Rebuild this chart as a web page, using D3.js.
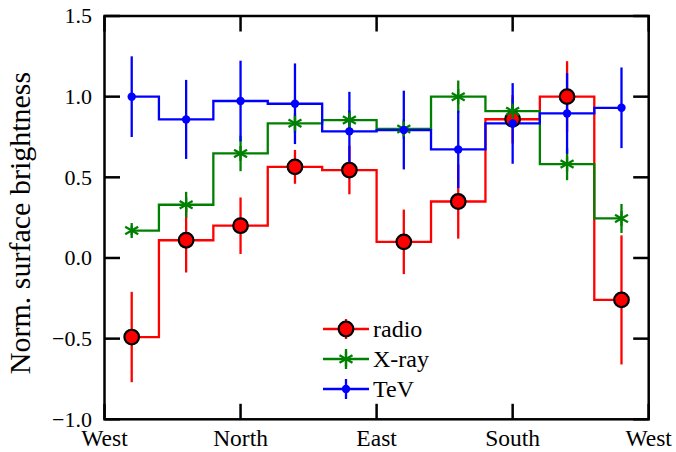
<!DOCTYPE html>
<html>
<head>
<meta charset="utf-8">
<script src="https://cdn.jsdelivr.net/npm/d3@7/dist/d3.min.js"></script>
<style>
  html, body { margin: 0; padding: 0; background: #fff; }
  svg { display: block; }
  text { font-family: "Liberation Serif", "Times New Roman", serif; fill: #000; }
</style>
</head>
<body>
<svg id="chart" width="676" height="452"></svg>
<script>
// Azimuthal bins (degrees, measured from West through North, East, South)
const angles = [18, 54, 90, 126, 162, 198, 234, 270, 306, 342];

const radio    = [-0.49, 0.11, 0.20, 0.565, 0.545, 0.10, 0.35, 0.86, 1.00, -0.26];
const radioErr = [0.28, 0.20, 0.175, 0.105, 0.15, 0.20, 0.23, 0.15, 0.22, 0.40];

const xray     = [0.17, 0.33, 0.648, 0.835, 0.855, 0.80, 1.00, 0.91, 0.582, 0.245];
const xrayErr  = [0.03, 0.08, 0.11, 0.06, 0.06, 0.06, 0.10, 0.08, 0.10, 0.09];

const tev      = [1.00, 0.859, 0.973, 0.956, 0.785, 0.793, 0.673, 0.834, 0.896, 0.931];
const tevErr   = [0.25, 0.245, 0.25, 0.25, 0.245, 0.244, 0.24, 0.25, 0.25, 0.25];

const xTickValues = [0, 90, 180, 270, 360];
const xTickLabels = ["West", "North", "East", "South", "West"];
const yTickValues = [-1.0, -0.5, 0.0, 0.5, 1.0, 1.5];

const seriesNames = ["radio", "X-ray", "TeV"];

const svg = d3.select("#chart");
const pLeft = 104.5, pRight = 648.7, pTop = 16, pBottom = 419.3;

const x = d3.scaleLinear().domain([0, 360]).range([pLeft, pRight]);
const y = d3.scaleLinear().domain([-1.0, 1.5]).range([pBottom, pTop]);

const series = [
  { name: seriesNames[0], vals: radio, errs: radioErr, color: "#ff0000", marker: "circle" },
  { name: seriesNames[1], vals: xray,  errs: xrayErr,  color: "#008000", marker: "asterisk" },
  { name: seriesNames[2], vals: tev,   errs: tevErr,   color: "#0000ff", marker: "dot" }
];

const plot = svg.append("g");

// step lines and error bars
const line = d3.line().x(d => x(d[0])).y(d => y(d[1])).curve(d3.curveStep);
series.forEach(s => {
  const pts = angles.map((a, i) => [a, s.vals[i]]);
  plot.append("path")
    .attr("d", line(pts))
    .attr("fill", "none")
    .attr("stroke", s.color)
    .attr("stroke-width", 2.3);
  plot.selectAll(null)
    .data(angles.map((a, i) => ({ a, v: s.vals[i], e: s.errs[i] })))
    .enter().append("line")
    .attr("x1", d => x(d.a)).attr("x2", d => x(d.a))
    .attr("y1", d => y(d.v - d.e)).attr("y2", d => y(d.v + d.e))
    .attr("stroke", s.color)
    .attr("stroke-width", 2.3);
});

function drawMarker(g, type, cx, cy, color) {
  if (type === "circle") {
    g.append("circle").attr("cx", cx).attr("cy", cy).attr("r", 7.3)
      .attr("fill", color).attr("stroke", "#000").attr("stroke-width", 2.2);
  } else if (type === "dot") {
    g.append("circle").attr("cx", cx).attr("cy", cy).attr("r", 4.2)
      .attr("fill", color);
  } else {
    const r = 7.5;
    [90, 30, 150].forEach(deg => {
      const t = deg * Math.PI / 180;
      g.append("line")
        .attr("x1", cx - r * Math.cos(t)).attr("y1", cy - r * Math.sin(t))
        .attr("x2", cx + r * Math.cos(t)).attr("y2", cy + r * Math.sin(t))
        .attr("stroke", color).attr("stroke-width", 2.3);
    });
  }
}

// markers on top of all lines
series.forEach(s => {
  angles.forEach((a, i) => drawMarker(plot, s.marker, x(a), y(s.vals[i]), s.color));
});

// frame
const axisG = svg.append("g");
const tickLen = 15.5, axisW = 2.5;
axisG.append("rect")
  .attr("x", pLeft).attr("y", pTop)
  .attr("width", pRight - pLeft).attr("height", pBottom - pTop)
  .attr("fill", "none").attr("stroke", "#000").attr("stroke-width", axisW);

// x ticks (inward, top and bottom)
xTickValues.forEach((v, i) => {
  const px = x(v);
  axisG.append("line").attr("x1", px).attr("x2", px)
    .attr("y1", pBottom).attr("y2", pBottom - tickLen)
    .attr("stroke", "#000").attr("stroke-width", axisW);
  axisG.append("line").attr("x1", px).attr("x2", px)
    .attr("y1", pTop).attr("y2", pTop + tickLen)
    .attr("stroke", "#000").attr("stroke-width", axisW);
  axisG.append("text")
    .attr("x", px).attr("y", 446)
    .attr("text-anchor", "middle")
    .attr("font-size", 23.5)
    .text(xTickLabels[i]);
});

// y ticks (inward, left and right)
const fmt = v => d3.format(".1f")(v).replace("-", "\u2212");
yTickValues.forEach(v => {
  const py = y(v);
  axisG.append("line").attr("x1", pLeft).attr("x2", pLeft + tickLen)
    .attr("y1", py).attr("y2", py)
    .attr("stroke", "#000").attr("stroke-width", axisW);
  axisG.append("line").attr("x1", pRight).attr("x2", pRight - tickLen)
    .attr("y1", py).attr("y2", py)
    .attr("stroke", "#000").attr("stroke-width", axisW);
  axisG.append("text")
    .attr("x", 92).attr("y", py)
    .attr("dy", "0.34em")
    .attr("text-anchor", "end")
    .attr("font-size", 22)
    .text(fmt(v));
});

// y axis title
svg.append("text")
  .attr("transform", "translate(30,223) rotate(-90)")
  .attr("text-anchor", "middle")
  .attr("font-size", 30)
  .text("Norm. surface brightness");

// legend
const legend = svg.append("g");
const legRows = [329, 359, 389];
series.forEach((s, i) => {
  const ly = legRows[i], lx0 = 323, lx1 = 369, mx = 346;
  legend.append("line").attr("x1", lx0).attr("x2", lx1).attr("y1", ly).attr("y2", ly)
    .attr("stroke", s.color).attr("stroke-width", 2.3);
  legend.append("line").attr("x1", mx).attr("x2", mx).attr("y1", ly - 10).attr("y2", ly + 10)
    .attr("stroke", s.color).attr("stroke-width", 2.3);
  drawMarker(legend, s.marker, mx, ly, s.color);
  legend.append("text")
    .attr("x", 373).attr("y", ly + 8)
    .attr("font-size", 24)
    .text(s.name);
});
</script>
</body>
</html>
